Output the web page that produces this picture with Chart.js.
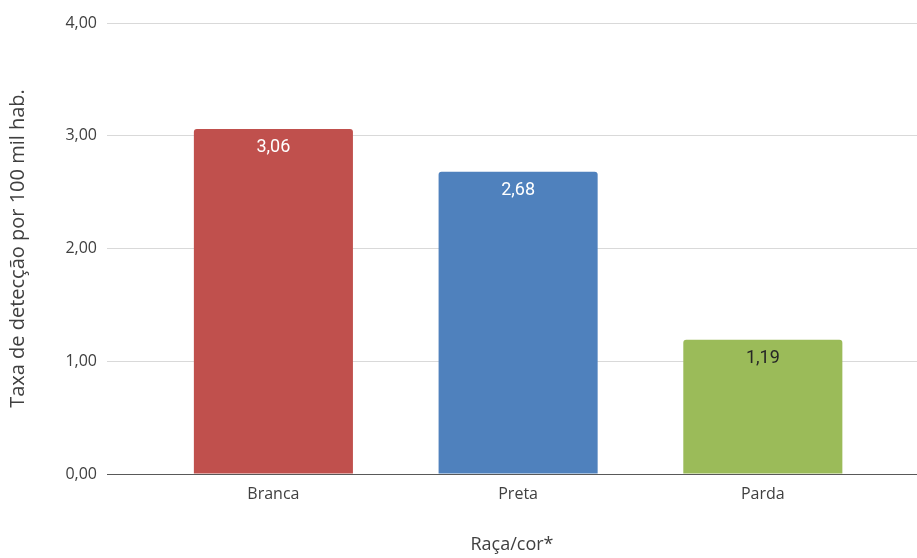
<!DOCTYPE html>
<html lang="pt-BR">
<head>
<meta charset="utf-8">
<title>Taxa de detecção por raça/cor</title>
<script src="https://cdn.jsdelivr.net/npm/chart.js@4.4.1/dist/chart.umd.min.js"></script>
<style>
  html, body { margin: 0; padding: 0; background: #ffffff; overflow: hidden; }
  #wrap { width: 917px; height: 558px; position: relative; }
</style>
</head>
<body>
<div id="wrap"><canvas id="chart"></canvas></div>
<script>
// Data
const categories = ['Branca', 'Preta', 'Parda'];
const rates = [3.06, 2.68, 1.19];
const barColors = ['#C0504D', '#4F81BD', '#9BBB59'];
const labelColors = ['#ffffff', '#ffffff', '#262626'];
const yTicks = [0, 1, 2, 3, 4];

const fmt = v => v.toFixed(2).replace('.', ',');

// Value labels inside the top of each bar
const valueLabels = {
    id: 'valueLabels',
    afterDatasetsDraw(chart) {
        const ctx = chart.ctx;
        const meta = chart.getDatasetMeta(0);
        ctx.save();
        ctx.font = '18px Roboto';
        ctx.textAlign = 'center';
        ctx.textBaseline = 'middle';
        meta.data.forEach((bar, i) => {
            ctx.fillStyle = labelColors[i];
            ctx.fillText(fmt(rates[i]), bar.x, bar.y + 19);
        });
        ctx.restore();
    }
};

const ctx = document.getElementById('chart').getContext('2d');
new Chart(ctx, {
    type: 'bar',
    data: {
        datasets: [{
            data: rates.map((v, i) => ({ x: i, y: v })),
            backgroundColor: barColors,
            borderRadius: { topLeft: 3, topRight: 3 },
            borderSkipped: 'start',
            categoryPercentage: 1,
            barPercentage: 0.65
        }]
    },
    options: {
        responsive: true,
        maintainAspectRatio: false,
        animation: false,
        layout: { padding: { top: 23, right: 0, bottom: 0, left: 0 } },
        plugins: {
            legend: { display: false },
            tooltip: { enabled: false }
        },
        scales: {
            x: {
                type: 'linear',
                offset: false,
                bounds: 'ticks',
                min: -0.68,
                max: 2.63,
                afterBuildTicks: scale => { scale.ticks = categories.map((_, i) => ({ value: i })); },
                afterFit: scale => { scale.height = 84; },
                ticks: {
                    color: '#404040',
                    font: { family: 'Open Sans', size: 16 },
                    padding: 11,
                    maxRotation: 0,
                    autoSkip: false,
                    callback: v => categories[v]
                },
                grid: { display: false, drawTicks: false },
                border: { display: true, color: '#595959', width: 1 },
                title: {
                    display: true,
                    text: 'Raça/cor*',
                    color: '#404040',
                    font: { family: 'Open Sans', size: 18 },
                    padding: { top: 0, bottom: 2 }
                }
            },
            y: {
                min: 0,
                max: 4,
                afterBuildTicks: scale => { scale.ticks = yTicks.map(v => ({ value: v })); },
                afterFit: scale => { scale.width = 107; },
                ticks: {
                    color: '#404040',
                    font: { family: 'Open Sans', size: 16 },
                    padding: 10,
                    callback: v => fmt(v)
                },
                grid: {
                    color: c => (c.tick && c.tick.value === 0 ? '#595959' : '#d9d9d9'),
                    lineWidth: 1,
                    drawTicks: false
                },
                border: { display: false },
                title: {
                    display: true,
                    text: 'Taxa de detecção por 100 mil hab.',
                    color: '#404040',
                    font: { family: 'Open Sans', size: 20 },
                    padding: { top: 6, bottom: 0 }
                }
            }
        }
    },
    plugins: [valueLabels]
});
</script>
</body>
</html>
